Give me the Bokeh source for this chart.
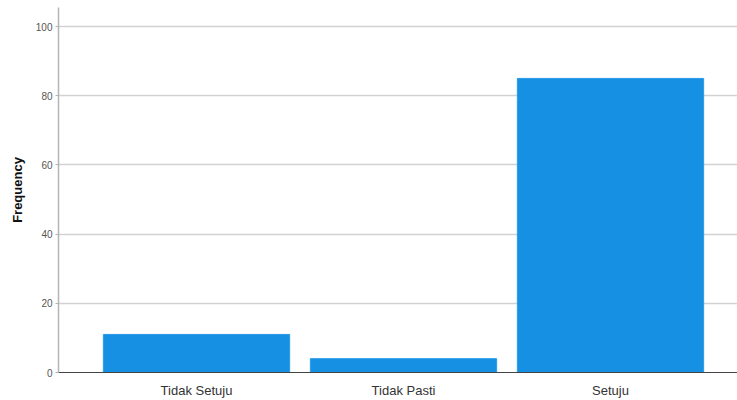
from bokeh.plotting import figure
from bokeh.models import ColumnDataSource, FixedTicker, Range1d
from bokeh.embed import file_html
from bokeh.resources import INLINE

categories = ["Tidak Setuju", "Tidak Pasti", "Setuju"]
frequency = [11, 4, 85]
y_ticks = [0, 20, 40, 60, 80, 100]

xs = list(range(1, len(categories) + 1))
src = ColumnDataSource(dict(x=xs, top=frequency, cat=categories))

p = figure(width=737, height=400, output_backend="svg", toolbar_location=None,
           x_range=Range1d(0.3333, 3.6135), y_range=Range1d(0, 105.5),
           min_border_left=58, min_border_right=0, min_border_top=7, min_border_bottom=26)
p.outline_line_color = None
p.vbar(x="x", top="top", width=0.9, source=src, fill_color="#1590e3", line_color="#2a9ae8", line_width=1)

p.xaxis.ticker = FixedTicker(ticks=xs)
p.xaxis.major_label_overrides = {x: c for x, c in zip(xs, categories)}
p.xaxis.major_tick_line_color = None
p.xaxis.minor_tick_line_color = None
p.xaxis.axis_line_color = "#444444"
p.xaxis.axis_line_width = 1
p.xaxis.major_label_text_font = "Liberation Sans"
p.xaxis.major_label_text_font_size = "13px"
p.xaxis.major_label_text_color = "#333333"
p.xaxis.major_label_standoff = 4

p.yaxis.ticker = FixedTicker(ticks=y_ticks)
p.yaxis.axis_label = "Frequency"
p.yaxis.axis_label_text_font = "Liberation Sans"
p.yaxis.axis_label_text_font_style = "bold"
p.yaxis.axis_label_text_font_size = "13px"
p.yaxis.axis_label_text_color = "#111111"
p.yaxis.axis_label_standoff = 8
p.yaxis.major_label_text_font = "Liberation Sans"
p.yaxis.major_label_text_font_size = "10px"
p.yaxis.major_label_text_color = "#555555"
p.yaxis.axis_line_color = "#b5b5b5"
p.yaxis.axis_line_width = 1.5
p.yaxis.major_tick_line_color = "#b5b5b5"
p.yaxis.major_tick_in = 0
p.yaxis.major_tick_out = 3
p.yaxis.minor_tick_line_color = None
p.yaxis.major_label_standoff = 3

p.xgrid.grid_line_color = None
p.ygrid.grid_line_color = "#d2d2d2"
p.ygrid.grid_line_width = 1.5

open("out.html", "w").write(file_html(p, INLINE))
